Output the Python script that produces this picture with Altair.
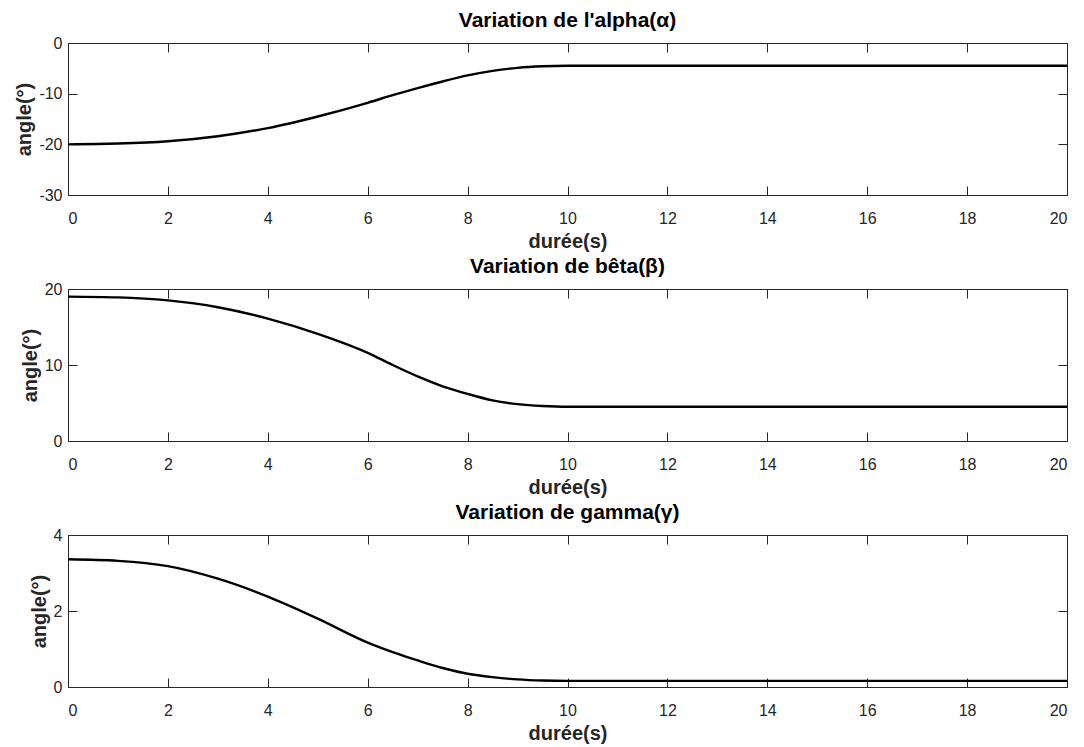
import altair as alt
import pandas as pd

t = [0, 1, 2, 3, 4, 5, 6, 6.5, 7, 7.5, 8, 8.5, 9, 9.5, 10, 12, 14, 16, 18, 20]
alpha = [-20.0, -19.85, -19.4, -18.4, -16.8, -14.5, -11.8, -10.3, -8.9, -7.6, -6.4, -5.5, -4.9, -4.6, -4.5, -4.5, -4.5, -4.5, -4.5, -4.5]
beta = [19.0, 18.9, 18.5, 17.6, 16.1, 14.1, 11.6, 10.0, 8.5, 7.2, 6.2, 5.35, 4.85, 4.6, 4.5, 4.5, 4.5, 4.5, 4.5, 4.5]
gamma = [3.36, 3.32, 3.18, 2.85, 2.38, 1.8, 1.17, 0.92, 0.7, 0.5, 0.35, 0.26, 0.2, 0.17, 0.16, 0.16, 0.16, 0.16, 0.16, 0.16]

x_ticks = [0, 2, 4, 6, 8, 10, 12, 14, 16, 18, 20]
titles = ["Variation de l'alpha(α)", "Variation de bêta(β)", "Variation de gamma(γ)"]
y_domains = [[-30, 0], [0, 20], [0, 4]]
y_ticks = [[-30, -20, -10, 0], [0, 10, 20], [0, 2, 4]]

FONT = "Liberation Sans"
AX = "#262626"


def panel(vals, title, ydom, yticks):
    df = pd.DataFrame({"t": t, "v": vals})
    base = alt.Chart(df)
    xs = alt.Scale(domain=[0, 20], nice=False, zero=False)
    ys = alt.Scale(domain=ydom, nice=False, zero=False)
    line = base.mark_line(color="black", strokeWidth=2.4, interpolate="monotone").encode(
        x=alt.X("t:Q", scale=xs,
                axis=alt.Axis(values=x_ticks, title="durée(s)", orient="bottom", offset=-9,
                              tickSize=9, domain=False, grid=False, labelPadding=15,
                              titlePadding=5)),
        y=alt.Y("v:Q", scale=ys,
                axis=alt.Axis(values=yticks, title="angle(°)", orient="left", offset=-9,
                              tickSize=9, domain=False, grid=False, labelPadding=6,
                              titlePadding=4, labelExpr="datum.value + ''")),
    )
    frame = base.mark_line(opacity=0).encode(
        x=alt.X("t:Q", scale=xs,
                axis=alt.Axis(values=x_ticks, title="", orient="top", offset=-9,
                              tickSize=9, labels=False, domain=False, grid=False)),
        y=alt.Y("v:Q", scale=ys,
                axis=alt.Axis(values=yticks, title="", orient="right", offset=-9,
                              tickSize=9, labels=False, domain=False, grid=False)),
    )
    return alt.layer(line, frame).resolve_axis(x="independent", y="independent").properties(
        width=999, height=152,
        title=alt.TitleParams(title, fontSize=21, fontWeight="bold", font=FONT,
                              color="black", offset=4),
    )


panels = [panel(v, ti, d, yt) for v, ti, d, yt in zip([alpha, beta, gamma], titles, y_domains, y_ticks)]

chart = alt.vconcat(*panels, spacing=3).properties(
    padding={"left": 14, "top": 9, "right": 5, "bottom": 0}
).configure_view(
    stroke=AX, strokeWidth=1
).configure_axis(
    labelFont=FONT, labelFontSize=16, labelColor=AX, tickColor=AX, tickWidth=1,
    titleFont=FONT, titleFontSize=20, titleFontWeight="bold", titleColor=AX,
)

chart.save("out.html", embed_options={"renderer": "svg", "actions": False})
